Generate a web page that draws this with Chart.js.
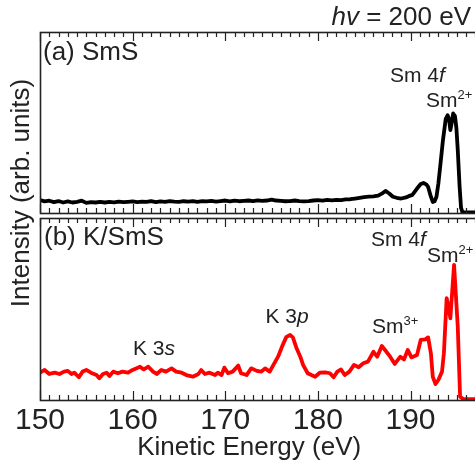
<!DOCTYPE html>
<html><head><meta charset="utf-8">
<script src="https://cdn.jsdelivr.net/npm/chart.js@4/dist/chart.umd.min.js"></script>
<style>
html,body{margin:0;padding:0;overflow:hidden;background:#fff;width:475px;height:467px;font-family:"Liberation Sans",Arial,sans-serif}
.c{position:absolute;left:0;top:0;width:480px;height:467px}
.pre{position:absolute;left:-999px;top:0;font-family:"Liberation Sans";}
</style></head><body>
<span class="pre">Ab <i>hv</i></span>
<div class="c"><canvas id="top"></canvas></div>
<div class="c"><canvas id="bot"></canvas></div>
<script>
// ---- data ----
const energyA = [150,150.5,151,151.5,152,152.5,153,153.5,154,154.5,155,155.5,156,156.5,157,157.5,158,158.5,159,159.5,
160,160.5,161,161.5,162,162.5,163,163.5,164,164.5,165,165.5,166,166.5,167,167.5,168,168.5,169,169.5,
170,170.5,171,171.5,172,172.5,173,173.5,174,174.5,175,175.5,176,176.5,177,177.5,178,178.5,179,179.5,
180,180.5,181,181.5,182,182.5,183,183.5,184,184.5,185,185.5,186,186.5,187,187.3,187.7,188.1,188.5,189,
189.5,189.8,190.2,190.7,191.1,191.4,191.7,191.9,192.2,192.4,192.6,192.8,193.0,193.2,193.5,193.8,194.0,194.15,194.3,194.45,
194.6,194.8,194.95,195.1,195.3,195.45,195.6,196,196.5,197,197.5];
const intensityA = [.072,.064,.068,.060,.066,.058,.064,.058,.062,.068,.056,.060,.058,.062,.058,.061,.059,.063,.060,.062,
.064,.060,.063,.061,.066,.060,.064,.061,.066,.063,.062,.065,.063,.066,.062,.065,.064,.067,.063,.066,
.069,.064,.068,.065,.067,.069,.066,.070,.067,.069,.074,.069,.067,.065,.066,.069,.066,.064,.066,.069,
.071,.068,.072,.070,.073,.071,.075,.076,.080,.084,.088,.090,.092,.096,.110,.122,.108,.090,.084,.080,
.086,.093,.100,.135,.160,.166,.158,.144,.090,.061,.065,.090,.160,.255,.402,.520,.540,.520,.458,.500,
.550,.535,.470,.347,.144,.030,.005,.004,.004,.004,.004];

const energyB = [150.0,150.5,151.0,151.6,152.1,152.6,153.0,153.4,153.7,154.2,154.6,155.0,155.5,156.1,156.4,156.8,157.2,157.5,157.9,158.4,
158.9,159.5,160.0,160.8,161.2,161.7,162.2,162.6,163.1,163.6,164.2,164.7,165.3,165.8,166.5,167.1,167.4,167.8,168.3,168.9,
169.2,169.6,169.9,170.3,170.8,171.4,171.7,172.3,172.8,173.4,173.9,174.3,174.8,175.2,175.7,176.2,176.6,177.0,177.3,177.7,
178.1,178.4,178.9,179.3,179.7,180.2,180.8,181.3,181.7,182.1,182.5,182.9,183.4,183.9,184.4,184.9,185.4,186.0,186.4,186.9,
187.4,187.8,188.3,188.9,189.3,189.7,190.1,190.7,191.1,191.6,191.9,192.2,192.4,192.7,193.0,193.4,193.6,193.9,194.1,194.3,
194.7,195.1,195.35,195.7,196.5,197.5];
const intensityB = [.150,.165,.143,.150,.143,.156,.160,.143,.150,.125,.156,.165,.150,.137,.119,.143,.150,.132,.156,.147,
.156,.150,.165,.183,.168,.183,.156,.143,.165,.156,.174,.156,.150,.137,.128,.143,.165,.143,.150,.137,
.150,.137,.178,.147,.156,.189,.147,.137,.174,.160,.156,.174,.156,.193,.238,.302,.347,.357,.344,.284,
.238,.193,.147,.137,.128,.150,.152,.147,.125,.156,.168,.137,.156,.193,.180,.202,.211,.265,.238,.297,
.265,.238,.198,.238,.223,.275,.234,.247,.330,.333,.344,.256,.128,.088,.110,.156,.256,.559,.513,.449,
.742,.403,.018,.005,.005,.005];

const xTickValues = [150,160,170,180,190];
const xMin = 150, xMax = 197.5;

const FONT = '"Liberation Sans", Arial, Helvetica, sans-serif';
const INK = '#222';

const decor = {
  id: 'decor',
  afterDraw(chart, args, opts) {
    const ctx = chart.ctx, a = chart.chartArea, sx = chart.scales.x;
    ctx.save();
    ctx.strokeStyle = INK; ctx.lineWidth = 1.2;
    ctx.beginPath();
    for (let v = Math.ceil(xMin); v <= xMax; v++) {
      const px = Math.round(sx.getPixelForValue(v)) + 0.5;
      const len = (v % 10 === 0) ? 9 : 5;
      ctx.moveTo(px, a.top); ctx.lineTo(px, a.top + len);
      ctx.moveTo(px, a.bottom); ctx.lineTo(px, a.bottom - len);
    }
    ctx.stroke();
    ctx.lineWidth = 1.6;
    ctx.strokeRect(a.left + 0.5, a.top + 0.5, a.right - a.left, a.bottom - a.top);
    ctx.fillStyle = INK;
    ctx.textBaseline = 'alphabetic';
    (opts.texts || []).forEach(t => {
      let x = t.x;
      if (t.align === 'right') {
        let w = 0;
        t.parts.forEach(p => { ctx.font = (p.italic ? 'italic ' : '') + p.size + 'px ' + FONT; w += ctx.measureText(p.s).width; });
        x -= w;
      }
      t.parts.forEach(p => {
        ctx.font = (p.italic ? 'italic ' : '') + p.size + 'px ' + FONT;
        ctx.textAlign = 'left';
        ctx.fillText(p.s, x, t.y + (p.dy || 0));
        x += ctx.measureText(p.s).width;
      });
    });
    if (opts.yTitle) {
      ctx.translate(opts.yTitle.x, opts.yTitle.y);
      ctx.rotate(-Math.PI / 2);
      ctx.font = opts.yTitle.size + 'px ' + FONT;
      ctx.textAlign = 'center';
      ctx.fillText(opts.yTitle.text, 0, 0);
    }
    ctx.restore();
  }
};

function pts(xs, ys) { return xs.map((x, i) => ({ x, y: ys[i] })); }

function build() {
Chart.defaults.font.family = FONT;
Chart.defaults.color = INK;

new Chart(document.getElementById('top'), {
  type: 'line',
  data: { datasets: [{ data: pts(energyA, intensityA), borderColor: '#000', borderWidth: 3.8,
    pointRadius: 0, tension: 0, borderJoinStyle: 'round', borderCapStyle: 'round' }] },
  options: {
    responsive: true, maintainAspectRatio: false, devicePixelRatio: 1, animation: false,
    layout: { padding: { left: 40, top: 32, right: 0, bottom: 254 } },
    scales: {
      x: { type: 'linear', min: xMin, max: xMax, display: false },
      y: { min: 0, max: 1, display: false }
    },
    plugins: {
      legend: { display: false }, tooltip: { enabled: false },
      decor: { texts: [
        { x: 471, y: 25, align: 'right', parts: [{ s: 'hv', size: 26, italic: true }, { s: ' = 200 eV', size: 26 }] },
        { x: 43, y: 60, parts: [{ s: '(a) SmS', size: 26 }] },
        { x: 390, y: 82, parts: [{ s: 'Sm 4', size: 21 }, { s: 'f', size: 21, italic: true }] },
        { x: 426, y: 107, parts: [{ s: 'Sm', size: 21 }, { s: '2+', size: 13, dy: -8 }] }
      ] }
    }
  },
  plugins: [decor]
});

new Chart(document.getElementById('bot'), {
  type: 'line',
  data: { datasets: [{ data: pts(energyB, intensityB), borderColor: '#ff0000', borderWidth: 3.8,
    pointRadius: 0, tension: 0, borderJoinStyle: 'round', borderCapStyle: 'round' }] },
  options: {
    responsive: true, maintainAspectRatio: false, devicePixelRatio: 1, animation: false,
    layout: { padding: { left: 40, top: 218, right: 0, bottom: 0 } },
    scales: {
      x: { type: 'linear', min: xMin, max: xMax, position: 'bottom',
        grid: { display: false, drawTicks: false }, border: { display: false },
        afterBuildTicks: s => { s.ticks = xTickValues.map(v => ({ value: v })); },
        afterFit: s => { s.height = 67; },
        ticks: { font: { size: 30 }, color: INK, padding: 3, maxRotation: 0, autoSkip: false },
        title: { display: true, text: 'Kinetic Energy (eV)   ', font: { size: 26 }, color: INK, padding: { top: 0, bottom: 4 } }
      },
      y: { min: 0, max: 1, display: false }
    },
    plugins: {
      legend: { display: false }, tooltip: { enabled: false },
      decor: {
        texts: [
          { x: 44, y: 245, parts: [{ s: '(b) K/SmS', size: 26 }] },
          { x: 371, y: 246, parts: [{ s: 'Sm 4', size: 21 }, { s: 'f', size: 21, italic: true }] },
          { x: 427, y: 262, parts: [{ s: 'Sm', size: 21 }, { s: '2+', size: 13, dy: -8 }] },
          { x: 372, y: 333, parts: [{ s: 'Sm', size: 21 }, { s: '3+', size: 13, dy: -8 }] },
          { x: 265.5, y: 323, parts: [{ s: 'K 3', size: 21 }, { s: 'p', size: 21, italic: true }] },
          { x: 133, y: 355, parts: [{ s: 'K 3', size: 21 }, { s: 's', size: 21, italic: true }] }
        ],
        yTitle: { x: 29, y: 193, size: 26, text: 'Intensity (arb. units)' }
      }
    }
  },
  plugins: [decor]
});
}

const loads = ['26px "Liberation Sans"', 'italic 26px "Liberation Sans"'].map(f => document.fonts.load(f).catch(() => null));
Promise.all(loads).then(build, build);
</script>
</body></html>
